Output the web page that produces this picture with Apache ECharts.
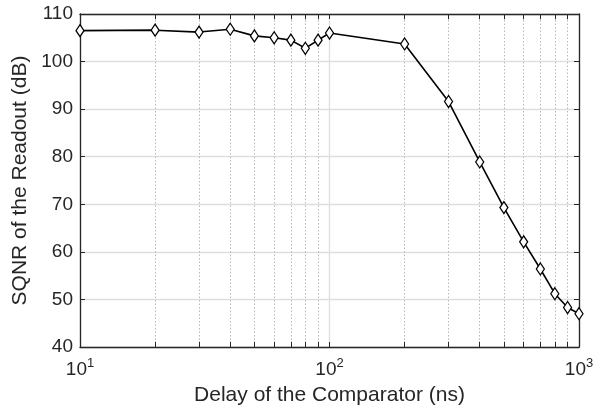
<!DOCTYPE html>
<html>
<head>
<meta charset="utf-8">
<script src="https://cdn.jsdelivr.net/npm/echarts@6/dist/echarts.min.js"></script>
<style>
  html, body { margin: 0; padding: 0; background: #fff; }
  #chart { width: 610px; height: 411px; }
</style>
</head>
<body>
<div id="chart"></div>
<script>
  // delay (ns) vs SQNR (dB)
  const delays = [10, 20, 30, 40, 50, 60, 70, 80, 90, 100, 200, 300, 400, 500, 600, 700, 800, 900, 1000];
  const sqnr = [106.5, 106.6, 106.2, 106.8, 105.4, 105.0, 104.5, 102.8, 104.5, 106.0, 103.7, 91.6, 78.9, 69.3, 62.1, 56.4, 51.2, 48.3, 47.0];
  const minorDelays = [20, 30, 40, 50, 60, 70, 80, 90, 200, 300, 400, 500, 600, 700, 800, 900];

  const textColor = '#262626';
  const font = 'Liberation Sans, Arial, sans-serif';

  const minorGrid = minorDelays.map(d => ({xAxis: d}));
  const minorTicks = [];
  minorDelays.forEach(d => {
    minorTicks.push([{coord: [d, 40]}, {coord: [d, 41.1]}]);
    minorTicks.push([{coord: [d, 110]}, {coord: [d, 108.9]}]);
  });

  const chart = echarts.init(document.getElementById('chart'));

  const option = {
    animation: false,
    grid: {left: 80, right: 31, top: 14, bottom: 64, show: false},
    xAxis: [{
      type: 'log',
      logBase: 10,
      min: 10,
      max: 1000,
      position: 'bottom',
      name: 'Delay of the Comparator (ns)',
      nameLocation: 'middle',
      nameGap: 37,
      nameTextStyle: {color: textColor, fontSize: 21, fontFamily: font},
      axisLine: {lineStyle: {color: textColor, width: 1.3}},
      axisTick: {inside: true, length: 5, lineStyle: {color: textColor}},
      splitLine: {show: true, lineStyle: {color: '#dedede', width: 1.3}},
      axisLabel: {
        margin: 10,
        formatter: v => '{b|10}{s|' + Math.round(Math.log10(v)) + '}',
        rich: {
          b: {fontSize: 19, color: textColor, fontFamily: font},
          s: {fontSize: 13, color: textColor, fontFamily: font, padding: [0, 0, 13, 0]}
        }
      }
    }, {
      type: 'log',
      logBase: 10,
      min: 10,
      max: 1000,
      position: 'top',
      axisLine: {lineStyle: {color: textColor, width: 1.3}},
      axisTick: {inside: true, length: 5, lineStyle: {color: textColor}},
      axisLabel: {show: false},
      splitLine: {show: false}
    }],
    yAxis: [{
      type: 'value',
      min: 40,
      max: 110,
      interval: 10,
      position: 'left',
      name: 'SQNR of the Readout (dB)',
      nameLocation: 'middle',
      nameGap: 42,
      nameTextStyle: {color: textColor, fontSize: 21, fontFamily: font},
      axisLine: {show: true, lineStyle: {color: textColor, width: 1.3}},
      axisTick: {show: true, inside: true, length: 5, lineStyle: {color: textColor}},
      splitLine: {show: true, lineStyle: {color: '#dedede', width: 1.3}},
      axisLabel: {color: textColor, fontSize: 19, fontFamily: font, margin: 7}
    }, {
      type: 'value',
      min: 40,
      max: 110,
      interval: 10,
      position: 'right',
      axisLine: {show: true, lineStyle: {color: textColor, width: 1.3}},
      axisTick: {show: true, inside: true, length: 5, lineStyle: {color: textColor}},
      splitLine: {show: false},
      axisLabel: {show: false}
    }],
    series: [{
      type: 'line',
      data: delays.map((d, i) => [d, sqnr[i]]),
      symbol: 'diamond',
      symbolSize: [8, 12],
      showSymbol: true,
      lineStyle: {color: '#000', width: 1.6},
      itemStyle: {color: '#fff', borderColor: '#000', borderWidth: 1.3},
      z: 5,
      markLine: {
        silent: true,
        symbol: 'none',
        label: {show: false},
        animation: false,
        data: minorGrid,
        lineStyle: {color: '#b8b8b8', type: [1.5, 2], width: 1}
      }
    }, {
      type: 'line',
      data: [],
      markLine: {
        silent: true,
        symbol: 'none',
        label: {show: false},
        animation: false,
        data: minorTicks,
        lineStyle: {color: textColor, type: 'solid', width: 1}
      }
    }]
  };

  chart.setOption(option);
</script>
</body>
</html>
